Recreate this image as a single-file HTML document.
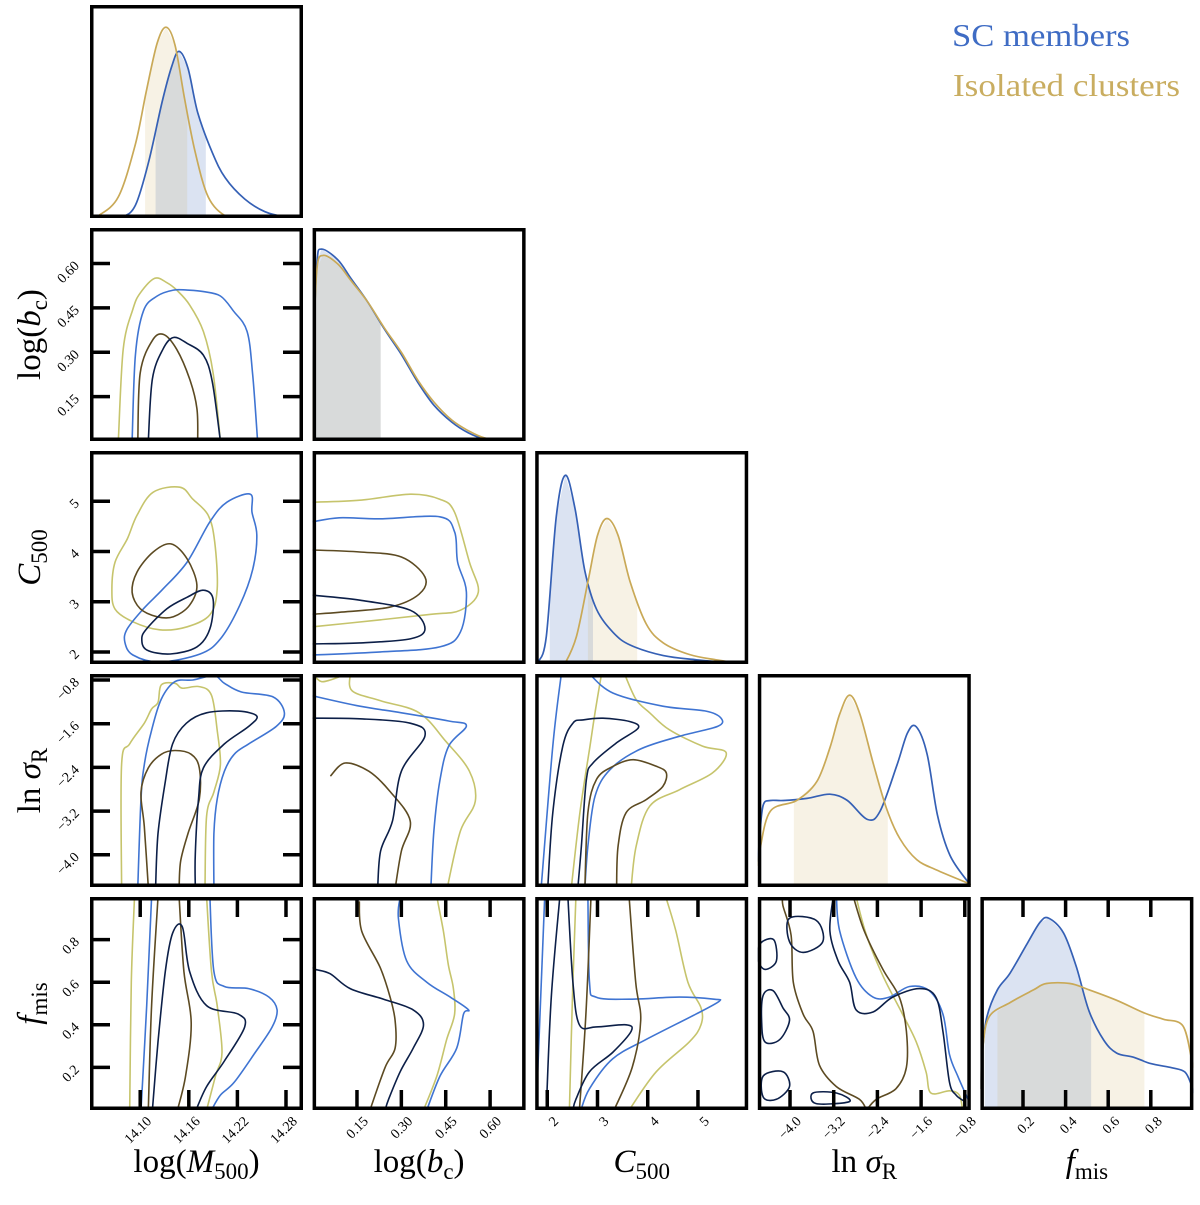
<!DOCTYPE html>
<html><head><meta charset="utf-8"><title>Corner plot</title>
<style>
html,body{margin:0;padding:0;background:#fff;}
svg{display:block;}
text{font-family:"Liberation Serif","DejaVu Serif",serif;}
</style></head>
<body>
<svg id="chart" width="1200" height="1205" viewBox="0 0 1200 1205" xmlns="http://www.w3.org/2000/svg">
  <text x="952" y="46" font-size="32" fill="#3f6cc4" textLength="178" lengthAdjust="spacingAndGlyphs">SC members</text>
  <text x="953" y="96" font-size="32" fill="#c9ad60" textLength="227" lengthAdjust="spacingAndGlyphs">Isolated clusters</text>
</svg>
<script>
// ---------- data ----------
const RANGES=[[14.038,14.301],[0,0.72],[1.76,6.0],[-4.59,-0.69],[0,1]];
const TICKS=[[14.10,14.16,14.22,14.28],[0.15,0.30,0.45,0.60],[2,3,4,5],[-4.0,-3.2,-2.4,-1.6,-0.8],[0.2,0.4,0.6,0.8]];
const TICK_LABELS=[["14.10","14.16","14.22","14.28"],["0.15","0.30","0.45","0.60"],["2","3","4","5"],["\u22124.0","\u22123.2","\u22122.4","\u22121.6","\u22120.8"],["0.2","0.4","0.6","0.8"]];

// 1D marginals (x values, normalised density)
const m_x_sc=[14.060,14.078,14.094,14.110,14.127,14.139,14.148,14.159,14.171,14.189,14.205,14.229,14.254,14.279,14.300];
const m_d_sc=[0,0.005,0.06,0.26,0.55,0.72,0.79,0.71,0.50,0.31,0.19,0.09,0.03,0.005,0];
const m_x_iso=[14.040,14.048,14.073,14.094,14.108,14.121,14.132,14.143,14.155,14.168,14.184,14.205,14.225];
const m_d_iso=[0,0.01,0.10,0.35,0.61,0.83,0.905,0.82,0.56,0.31,0.10,0.01,0];
const m_fill_sc=[14.119,14.181], m_fill_iso=[14.106,14.158];

const b_x_sc=[0,0.005,0.015,0.03,0.085,0.13,0.186,0.243,0.30,0.355,0.41,0.47,0.525,0.58,0.65,0.72];
const b_d_sc=[0,0.5,0.85,0.91,0.86,0.77,0.66,0.53,0.41,0.28,0.17,0.09,0.04,0.01,0,0];
const b_x_iso=[0,0.005,0.015,0.035,0.085,0.13,0.186,0.243,0.30,0.355,0.41,0.47,0.525,0.58,0.65,0.72];
const b_d_iso=[0,0.5,0.82,0.88,0.84,0.76,0.66,0.535,0.42,0.29,0.185,0.10,0.05,0.015,0,0];
const b_fill_sc=[0,0.23], b_fill_iso=[0,0.23];

const c_x_sc=[1.78,1.82,1.98,2.18,2.36,2.55,2.75,2.98,3.31,3.65,4.31,4.97,5.98];
const c_d_sc=[0,0.01,0.13,0.70,0.895,0.74,0.44,0.26,0.15,0.09,0.04,0.02,0];
const c_x_iso=[2.30,2.36,2.58,2.81,3.00,3.19,3.41,3.65,3.97,4.31,4.83,5.36,5.98];
const c_d_iso=[0,0.005,0.13,0.39,0.61,0.69,0.61,0.39,0.19,0.10,0.045,0.02,0];
const c_fill_sc=[2.05,2.91], c_fill_iso=[2.81,3.79];

const s_x_sc=[-4.59,-4.55,-4.49,-4.36,-4.12,-3.69,-3.27,-2.95,-2.58,-2.35,-2.04,-1.85,-1.69,-1.49,-1.30,-1.07,-0.76,-0.69];
const s_d_sc=[0.12,0.26,0.39,0.41,0.41,0.42,0.44,0.41,0.32,0.36,0.58,0.73,0.76,0.63,0.34,0.15,0.03,0.01];
const s_x_iso=[-4.59,-4.55,-4.36,-3.88,-3.51,-3.27,-3.09,-2.91,-2.72,-2.47,-2.23,-1.99,-1.68,-1.31,-0.76,-0.69];
const s_d_iso=[0.10,0.18,0.36,0.41,0.50,0.66,0.82,0.91,0.82,0.58,0.37,0.23,0.13,0.08,0.02,0.01];
const s_fill_iso=[-3.93,-2.21];

const f_x_sc=[0,0.01,0.03,0.08,0.14,0.22,0.28,0.32,0.39,0.45,0.51,0.58,0.64,0.72,0.80,0.90,0.96,0.99,1.0];
const f_d_sc=[0.1,0.28,0.44,0.57,0.65,0.79,0.89,0.91,0.84,0.68,0.47,0.33,0.27,0.25,0.22,0.20,0.18,0.12,0.08];
const f_x_iso=[0,0.01,0.04,0.14,0.25,0.31,0.42,0.51,0.64,0.77,0.86,0.95,0.99,1.0];
const f_d_iso=[0.1,0.28,0.44,0.51,0.57,0.60,0.60,0.57,0.52,0.46,0.43,0.40,0.25,0.2];
const f_fill_sc=[0.02,0.52], f_fill_iso=[0.08,0.77];

// 2D contours [x,y] in data units
const k10_isoOut=[[14.073,0],[14.079,0.31],[14.091,0.446],[14.100,0.50],[14.118,0.55],[14.133,0.535],[14.145,0.51],[14.161,0.46],[14.178,0.37],[14.190,0.23],[14.199,0]];
const k10_scOut=[[14.090,0],[14.094,0.29],[14.104,0.44],[14.121,0.49],[14.141,0.51],[14.158,0.51],[14.178,0.505],[14.199,0.49],[14.215,0.44],[14.232,0.37],[14.239,0.22],[14.245,0]];
const k10_isoIn=[[14.097,0],[14.100,0.23],[14.115,0.34],[14.129,0.36],[14.145,0.31],[14.161,0.21],[14.170,0.11],[14.171,0]];
const k10_scIn=[[14.110,0],[14.115,0.21],[14.128,0.31],[14.141,0.35],[14.158,0.33],[14.178,0.29],[14.189,0.20],[14.199,0]];

const k20_isoOut=[[14.065,3.25],[14.069,3.79],[14.084,4.25],[14.096,4.72],[14.116,5.18],[14.149,5.28],[14.165,5.04],[14.184,4.72],[14.192,4.19],[14.195,3.25],[14.186,2.74],[14.158,2.50],[14.124,2.44],[14.091,2.60],[14.069,2.85]];
const k20_scOut=[[14.081,2.20],[14.084,2.46],[14.104,2.86],[14.128,3.25],[14.158,3.79],[14.186,4.59],[14.207,4.98],[14.236,5.14],[14.238,4.78],[14.244,4.33],[14.239,3.65],[14.223,2.93],[14.199,2.26],[14.174,1.96],[14.124,1.80],[14.091,1.94]];
const k20_isoIn=[[14.090,3.19],[14.096,3.59],[14.116,3.99],[14.138,4.15],[14.158,3.85],[14.170,3.33],[14.161,2.93],[14.141,2.70],[14.121,2.70],[14.100,2.86]];
const k20_scIn=[[14.102,2.26],[14.108,2.46],[14.133,2.86],[14.158,3.09],[14.178,3.23],[14.190,3.05],[14.186,2.46],[14.170,2.10],[14.137,1.96],[14.108,2.04]];

const k30_isoOut=[[14.077,-4.59],[14.077,-2.345],[14.087,-1.97],[14.105,-1.59],[14.114,-1.33],[14.122,-1.21],[14.126,-0.89],[14.143,-0.86],[14.152,-0.95],[14.173,-0.92],[14.188,-1.08],[14.195,-1.72],[14.199,-2.35],[14.191,-2.85],[14.182,-3.29],[14.180,-4.59]];
const k30_scOut=[[14.097,-4.59],[14.101,-2.98],[14.105,-2.35],[14.114,-1.72],[14.126,-1.15],[14.143,-0.83],[14.165,-0.80],[14.191,-0.72],[14.204,-0.86],[14.225,-1.02],[14.264,-1.11],[14.278,-1.40],[14.268,-1.65],[14.234,-1.97],[14.216,-2.16],[14.204,-2.47],[14.195,-2.98],[14.191,-3.61],[14.191,-4.59]];
const k30_scIn=[[14.119,-4.59],[14.122,-3.61],[14.131,-2.66],[14.140,-1.97],[14.157,-1.59],[14.182,-1.40],[14.221,-1.37],[14.244,-1.46],[14.234,-1.65],[14.204,-1.97],[14.178,-2.41],[14.172,-2.98],[14.168,-3.99],[14.168,-4.59]];
const k30_isoIn=[[14.110,-4.59],[14.105,-3.48],[14.101,-2.85],[14.110,-2.41],[14.126,-2.16],[14.143,-2.09],[14.163,-2.16],[14.173,-2.41],[14.173,-2.98],[14.159,-3.61],[14.150,-4.11],[14.148,-4.59]];

const k40_isoOutL=[[14.093,1.0],[14.089,0.6],[14.087,0]];
const k40_isoOutR=[[14.182,1.0],[14.188,0.65],[14.195,0.49],[14.201,0.27],[14.193,0.16],[14.182,0]];
const k40_scOutL=[[14.114,1.0],[14.108,0.49],[14.101,0]];
const k40_scOutR=[[14.186,1.0],[14.191,0.65],[14.204,0.58],[14.234,0.57],[14.259,0.53],[14.269,0.47],[14.263,0.39],[14.242,0.27],[14.216,0.13],[14.199,0.07],[14.188,0]];
const k40_isoInL=[[14.122,1.0],[14.114,0.49],[14.110,0]];
const k40_isoInR=[[14.148,1.0],[14.154,0.65],[14.163,0.41],[14.156,0.16],[14.146,0]];
const k40_scIn=[[14.115,0],[14.122,0.32],[14.131,0.65],[14.140,0.83],[14.152,0.86],[14.161,0.65],[14.182,0.49],[14.221,0.45],[14.229,0.39],[14.204,0.23],[14.182,0.11],[14.169,0]];

const k21_isoOut=[[0,4.98],[0.16,5.02],[0.33,5.14],[0.43,5.04],[0.48,4.78],[0.53,3.79],[0.56,3.19],[0.50,2.83],[0.40,2.75],[0.23,2.64],[0,2.50]];
const k21_scOut=[[0,4.59],[0.09,4.67],[0.23,4.65],[0.43,4.69],[0.48,4.39],[0.49,3.79],[0.52,3.19],[0.50,2.40],[0.43,2.10],[0.23,2.00],[0,1.94]];
const k21_isoIn=[[0,4.03],[0.16,3.99],[0.30,3.89],[0.38,3.49],[0.36,3.15],[0.26,2.89],[0.09,2.79],[0,2.75]];
const k21_scIn=[[0,3.13],[0.16,3.03],[0.33,2.83],[0.38,2.46],[0.33,2.26],[0.16,2.18],[0,2.16]];

const k31_isoOut=[[0.127,-0.69],[0.134,-1.00],[0.23,-1.18],[0.36,-1.40],[0.45,-1.92],[0.53,-2.47],[0.55,-3.02],[0.50,-3.56],[0.46,-4.48],[0.46,-4.59]];
const k31_isoOutTop=[[0.01,-0.75],[0.03,-0.83],[0.06,-0.80],[0.10,-0.72],[0.11,-0.69]];
const k31_scOut=[[0,-1.09],[0.16,-1.28],[0.30,-1.40],[0.46,-1.55],[0.52,-1.64],[0.46,-2.01],[0.43,-2.65],[0.41,-3.56],[0.40,-4.59]];
const k31_scIn=[[0,-1.50],[0.16,-1.51],[0.33,-1.59],[0.38,-1.82],[0.30,-2.47],[0.27,-3.38],[0.23,-3.93],[0.22,-4.59]];
const k31_isoIn=[[0.06,-2.56],[0.11,-2.32],[0.19,-2.47],[0.26,-2.83],[0.33,-3.38],[0.30,-3.93],[0.28,-4.59]];

const k41_isoIn=[[0.158,0.98],[0.166,0.84],[0.228,0.67],[0.262,0.53],[0.279,0.42],[0.279,0.29],[0.245,0.20],[0.194,0.0]];
const k41_scIn=[[0,0.67],[0.009,0.66],[0.059,0.64],[0.127,0.57],[0.24,0.52],[0.34,0.47],[0.375,0.40],[0.34,0.29],[0.296,0.18],[0.257,0.05],[0.245,0.0]];
const k41_scOut=[[0.296,1.0],[0.29,0.90],[0.318,0.70],[0.386,0.60],[0.465,0.53],[0.527,0.47],[0.51,0.45],[0.487,0.29],[0.431,0.16],[0.386,0.0]];
const k41_isoOut=[[0.42,1.0],[0.442,0.84],[0.459,0.68],[0.476,0.57],[0.48,0.45],[0.453,0.33],[0.42,0.16],[0.375,0.0]];

const k32_scOutL=[[2.28,-0.69],[2.11,-2.01],[1.88,-4.59]];
const k32_scOutR=[[2.84,-0.69],[3.31,-1.04],[4.30,-1.28],[5.16,-1.37],[5.46,-1.50],[5.39,-1.65],[4.63,-1.83],[3.84,-2.07],[3.25,-2.44],[2.95,-2.93],[2.81,-3.84],[2.75,-4.59]];
const k32_scIn=[[2.01,-4.59],[2.11,-3.23],[2.31,-2.01],[2.51,-1.59],[2.71,-1.53],[3.11,-1.50],[3.64,-1.56],[3.81,-1.68],[3.38,-1.95],[2.91,-2.32],[2.78,-2.62],[2.68,-3.84],[2.61,-4.59]];
const k32_isoOutL=[[3.08,-0.69],[2.95,-1.40],[2.85,-2.01],[2.65,-3.23],[2.48,-4.59]];
const k32_isoOutR=[[3.54,-0.69],[3.77,-1.16],[4.04,-1.40],[4.43,-1.71],[5.09,-2.01],[5.56,-2.13],[5.29,-2.50],[4.63,-2.81],[4.04,-3.11],[3.77,-3.84],[3.67,-4.59]];
const k32_isoIn=[[3.38,-4.59],[3.41,-3.84],[3.57,-3.23],[3.97,-2.99],[4.30,-2.75],[4.37,-2.50],[4.17,-2.38],[3.71,-2.26],[3.31,-2.38],[2.98,-2.62],[2.81,-3.23],[2.75,-4.59]];

const k42_scOutL=[[1.95,1.0],[1.78,0.0]];
const k42_scOutR=[[2.81,1.0],[2.84,0.60],[2.97,0.53],[3.63,0.52],[4.63,0.53],[5.32,0.52],[5.42,0.51],[4.96,0.45],[3.96,0.33],[3.30,0.24],[2.84,0.10],[2.67,0.0]];
const k42_scInL=[[2.25,1.0],[2.08,0.53],[1.98,0.0]];
const k42_scInR=[[2.41,1.0],[2.51,0.60],[2.64,0.40],[2.97,0.39],[3.57,0.40],[3.67,0.37],[3.30,0.27],[2.84,0.18],[2.57,0.05],[2.51,0.0]];
const k42_isoOutL=[[2.57,1.0],[2.51,0.60],[2.44,0.0]];
const k42_isoOutR=[[4.36,1.0],[4.56,0.84],[4.80,0.60],[5.06,0.48],[5.06,0.40],[4.83,0.32],[4.17,0.18],[3.63,0.0]];
const k42_isoInL=[[2.87,1.0],[2.77,0.45],[2.64,0.0]];
const k42_isoInR=[[3.63,1.0],[3.76,0.60],[3.86,0.42],[3.69,0.20],[3.33,0.0]];

const k43_scIn=[[-3.21,1.0],[-3.27,0.84],[-3.12,0.70],[-2.91,0.60],[-2.79,0.47],[-2.48,0.46],[-2.12,0.53],[-1.63,0.57],[-1.33,0.53],[-1.20,0.37],[-1.08,0.13],[-0.96,0.07],[-0.80,0.04]];
const k43_scOut=[[-3.15,1.0],[-3.09,0.84],[-2.79,0.62],[-2.48,0.53],[-2.18,0.53],[-1.81,0.58],[-1.45,0.56],[-1.20,0.45],[-1.08,0.26],[-0.93,0.16],[-0.74,0.05]];
const k43_isoOut=[[-2.79,1.0],[-2.60,0.82],[-2.30,0.63],[-1.94,0.45],[-1.69,0.32],[-1.51,0.18],[-1.42,0.08],[-1.08,0.09],[-0.90,0.07],[-0.84,0.0]];
const k43_isoIn=[[-2.84,1.0],[-2.64,0.84],[-2.30,0.66],[-2.00,0.53],[-1.87,0.37],[-1.87,0.20],[-2.06,0.10],[-2.42,0.05],[-2.60,0.0]];
const k43_isoIn2=[[-4.13,1.0],[-4.13,0.96],[-3.98,0.82],[-3.94,0.60],[-3.76,0.45],[-3.58,0.37],[-3.46,0.21],[-3.15,0.11],[-2.73,0.05],[-2.60,0.0]];
const k43_blob1=[[-4.49,0.54],[-4.31,0.56],[-4.13,0.48],[-4.01,0.42],[-4.19,0.33],[-4.46,0.32],[-4.52,0.42]];
const k43_blob2=[[-4.49,0.16],[-4.13,0.18],[-4.01,0.11],[-4.25,0.05],[-4.49,0.06]];
const k43_blob3=[[-4.01,0.90],[-3.52,0.89],[-3.40,0.79],[-3.76,0.74],[-4.01,0.79]];
const k43_blob4=[[-3.58,0.08],[-3.15,0.08],[-2.91,0.04],[-3.52,0.03]];
const k43_blob5=[[-4.55,0.78],[-4.30,0.80],[-4.25,0.70],[-4.45,0.66],[-4.58,0.70]];

// ---------- drawing ----------
const NS='http://www.w3.org/2000/svg';
const svg=document.getElementById('chart');
const PX0=90,PITCH_X=222.6,PY0=5,PITCH_Y=223,SZ=213;
const BLUE='#3560b5',GOLD='#c9a957',SC_OUT='#3f74d2',SC_IN='#0c1f48',ISO_OUT='#c6c46c',ISO_IN='#5c4a22';
function xs(col,v){const r=RANGES[col];return PX0+PITCH_X*col+(v-r[0])/(r[1]-r[0])*SZ;}
function ys(row,v){const r=RANGES[row];return PY0+PITCH_Y*row+SZ-(v-r[0])/(r[1]-r[0])*SZ;}
function yd(row,d){return PY0+PITCH_Y*row+SZ-d*SZ*0.99;}
function el(tag,attrs,parent){const e=document.createElementNS(NS,tag);for(const k in attrs)e.setAttribute(k,attrs[k]);(parent||svg).appendChild(e);return e;}
function smooth(pts,closed){
  const n=pts.length;if(n<2)return '';
  const P=i=>closed?pts[(i+n)%n]:pts[Math.max(0,Math.min(n-1,i))];
  let d='M'+pts[0][0].toFixed(1)+','+pts[0][1].toFixed(1);
  const segs=closed?n:n-1;
  for(let i=0;i<segs;i++){
    const p0=P(i-1),p1=P(i),p2=P(i+1),p3=P(i+2);
    const c1=[p1[0]+(p2[0]-p0[0])/6,p1[1]+(p2[1]-p0[1])/6];
    const c2=[p2[0]-(p3[0]-p1[0])/6,p2[1]-(p3[1]-p1[1])/6];
    d+='C'+c1[0].toFixed(1)+','+c1[1].toFixed(1)+' '+c2[0].toFixed(1)+','+c2[1].toFixed(1)+' '+p2[0].toFixed(1)+','+p2[1].toFixed(1);
  }
  return d+(closed?'Z':'');
}
const defs=el('defs',{});
const layers={};
function panelGroup(r,c){
  const key=r+'_'+c;if(layers[key])return layers[key];
  const cp=el('clipPath',{id:'clip'+key},defs);
  el('rect',{x:PX0+PITCH_X*c,y:PY0+PITCH_Y*r,width:SZ,height:SZ},cp);
  const g=el('g',{'clip-path':'url(#clip'+key+')'});
  
  
  layers[key]=g;return g;
}
function interp(xsA,dsA,x){
  if(x<=xsA[0])return dsA[0];
  for(let i=1;i<xsA.length;i++){if(x<=xsA[i]){const t=(x-xsA[i-1])/(xsA[i]-xsA[i-1]);return dsA[i-1]+t*(dsA[i]-dsA[i-1]);}}
  return dsA[dsA.length-1];
}
function fillUnder(k,xsA,dsA,range,color,op,name){
  const g=panelGroup(k,k);
  const pts=[[xs(k,range[0]),yd(k,0)],[xs(k,range[0]),yd(k,interp(xsA,dsA,range[0]))]];
  xsA.forEach((x,i)=>{if(x>range[0]&&x<range[1])pts.push([xs(k,x),yd(k,dsA[i])]);});
  pts.push([xs(k,range[1]),yd(k,interp(xsA,dsA,range[1]))]);
  pts.push([xs(k,range[1]),yd(k,0)]);
  const p=el('polygon',{points:pts.map(p=>p.join(',')).join(' '),fill:color,'fill-opacity':op},g);
  
  
}
function curve(k,xsA,dsA,color,name){
  const g=panelGroup(k,k);
  const pts=xsA.map((x,i)=>[xs(k,x),yd(k,dsA[i])]);
  const p=el('path',{d:smooth(pts,false),fill:'none',stroke:color,'stroke-width':1.7},g);
  
  
}
function contour(r,c,arr,color,closed,name){
  const g=panelGroup(r,c);
  const pts=arr.map(p=>[xs(c,p[0]),ys(r,p[1])]);
  const p=el('path',{d:smooth(pts,closed),fill:'none',stroke:color,'stroke-width':1.6,'stroke-linejoin':'round'},g);
  
  
}

// diagonal fills & curves
fillUnder(0,m_x_sc,m_d_sc,m_fill_sc,'rgb(58,102,184)',0.18,'logm-sc-interval');
fillUnder(0,m_x_iso,m_d_iso,m_fill_iso,'rgb(200,170,80)',0.15,'logm-iso-interval');
curve(0,m_x_sc,m_d_sc,BLUE,'logm-sc-marginal');curve(0,m_x_iso,m_d_iso,GOLD,'logm-iso-marginal');
fillUnder(1,b_x_sc,b_d_sc,b_fill_sc,'rgb(58,102,184)',0.18,'bc-sc-interval');
fillUnder(1,b_x_iso,b_d_iso,b_fill_iso,'rgb(200,170,80)',0.15,'bc-iso-interval');
curve(1,b_x_sc,b_d_sc,BLUE,'bc-sc-marginal');curve(1,b_x_iso,b_d_iso,GOLD,'bc-iso-marginal');
fillUnder(2,c_x_sc,c_d_sc,c_fill_sc,'rgb(58,102,184)',0.18,'c500-sc-interval');
fillUnder(2,c_x_iso,c_d_iso,c_fill_iso,'rgb(200,170,80)',0.15,'c500-iso-interval');
curve(2,c_x_sc,c_d_sc,BLUE,'c500-sc-marginal');curve(2,c_x_iso,c_d_iso,GOLD,'c500-iso-marginal');
fillUnder(3,s_x_iso,s_d_iso,s_fill_iso,'rgb(200,170,80)',0.15,'sigma-iso-interval');
curve(3,s_x_sc,s_d_sc,BLUE,'sigma-sc-marginal');curve(3,s_x_iso,s_d_iso,GOLD,'sigma-iso-marginal');
fillUnder(4,f_x_sc,f_d_sc,f_fill_sc,'rgb(58,102,184)',0.18,'fmis-sc-interval');
fillUnder(4,f_x_iso,f_d_iso,f_fill_iso,'rgb(200,170,80)',0.15,'fmis-iso-interval');
curve(4,f_x_sc,f_d_sc,BLUE,'fmis-sc-marginal');curve(4,f_x_iso,f_d_iso,GOLD,'fmis-iso-marginal');

// contours
contour(1,0,k10_isoOut,ISO_OUT,false,'iso-outer-contour');contour(1,0,k10_scOut,SC_OUT,false,'sc-outer-contour');
contour(1,0,k10_isoIn,ISO_IN,false,'iso-inner-contour');contour(1,0,k10_scIn,SC_IN,false,'sc-inner-contour');
contour(2,0,k20_isoOut,ISO_OUT,true,'iso-outer-contour');contour(2,0,k20_scOut,SC_OUT,true,'sc-outer-contour');
contour(2,0,k20_isoIn,ISO_IN,true,'iso-inner-contour');contour(2,0,k20_scIn,SC_IN,true,'sc-inner-contour');
contour(3,0,k30_isoOut,ISO_OUT,false,'iso-outer-contour');contour(3,0,k30_scOut,SC_OUT,false,'sc-outer-contour');
contour(3,0,k30_isoIn,ISO_IN,false,'iso-inner-contour');contour(3,0,k30_scIn,SC_IN,false,'sc-inner-contour');
contour(4,0,k40_isoOutL,ISO_OUT,false,'iso-outer-contour');contour(4,0,k40_isoOutR,ISO_OUT,false,'iso-outer-contour');
contour(4,0,k40_scOutL,SC_OUT,false,'sc-outer-contour');contour(4,0,k40_scOutR,SC_OUT,false,'sc-outer-contour');
contour(4,0,k40_isoInL,ISO_IN,false,'iso-inner-contour');contour(4,0,k40_isoInR,ISO_IN,false,'iso-inner-contour');
contour(4,0,k40_scIn,SC_IN,false,'sc-inner-contour');
contour(2,1,k21_isoOut,ISO_OUT,false,'iso-outer-contour');contour(2,1,k21_scOut,SC_OUT,false,'sc-outer-contour');
contour(2,1,k21_isoIn,ISO_IN,false,'iso-inner-contour');contour(2,1,k21_scIn,SC_IN,false,'sc-inner-contour');
contour(3,1,k31_isoOut,ISO_OUT,false,'iso-outer-contour');contour(3,1,k31_isoOutTop,ISO_OUT,false,'iso-outer-contour');
contour(3,1,k31_scOut,SC_OUT,false,'sc-outer-contour');
contour(3,1,k31_isoIn,ISO_IN,false,'iso-inner-contour');contour(3,1,k31_scIn,SC_IN,false,'sc-inner-contour');
contour(4,1,k41_isoOut,ISO_OUT,false,'iso-outer-contour');contour(4,1,k41_scOut,SC_OUT,false,'sc-outer-contour');
contour(4,1,k41_isoIn,ISO_IN,false,'iso-inner-contour');contour(4,1,k41_scIn,SC_IN,false,'sc-inner-contour');
contour(3,2,k32_isoOutL,ISO_OUT,false,'iso-outer-contour');contour(3,2,k32_isoOutR,ISO_OUT,false,'iso-outer-contour');
contour(3,2,k32_scOutL,SC_OUT,false,'sc-outer-contour');contour(3,2,k32_scOutR,SC_OUT,false,'sc-outer-contour');
contour(3,2,k32_isoIn,ISO_IN,false,'iso-inner-contour');contour(3,2,k32_scIn,SC_IN,false,'sc-inner-contour');
contour(4,2,k42_isoOutL,ISO_OUT,false,'iso-outer-contour');contour(4,2,k42_isoOutR,ISO_OUT,false,'iso-outer-contour');
contour(4,2,k42_scOutL,SC_OUT,false,'sc-outer-contour');contour(4,2,k42_scOutR,SC_OUT,false,'sc-outer-contour');
contour(4,2,k42_isoInL,ISO_IN,false,'iso-inner-contour');contour(4,2,k42_isoInR,ISO_IN,false,'iso-inner-contour');
contour(4,2,k42_scInL,SC_IN,false,'sc-inner-contour');contour(4,2,k42_scInR,SC_IN,false,'sc-inner-contour');
contour(4,3,k43_isoOut,ISO_OUT,false,'iso-outer-contour');contour(4,3,k43_scOut,SC_OUT,false,'sc-outer-contour');
contour(4,3,k43_isoIn,ISO_IN,false,'iso-inner-contour');contour(4,3,k43_isoIn2,ISO_IN,false,'iso-inner-contour');
contour(4,3,k43_scIn,SC_IN,false,'sc-inner-contour');
[k43_blob1,k43_blob2,k43_blob3,k43_blob4,k43_blob5].forEach(b=>contour(4,3,b,SC_IN,true,'sc-inner-contour-island'));

// frames & ticks
for(let r=0;r<5;r++){for(let c=0;c<=r;c++){
  const x0=PX0+PITCH_X*c,y0=PY0+PITCH_Y*r;
  const fr=el('rect',{x:x0+1.75,y:y0+1.75,width:SZ-3.5,height:SZ-3.5,fill:'none',stroke:'#000','stroke-width':3.5});
  
  
  if(c===0&&r>0){
    TICKS[r].forEach((t,i)=>{
      const y=ys(r,t);
      const tl=el('line',{x1:x0,x2:x0+20,y1:y,y2:y,stroke:'#000','stroke-width':3.5});
      
      
      const tr=el('line',{x1:x0+SZ-20,x2:x0+SZ,y1:y,y2:y,stroke:'#000','stroke-width':3.5});
      
      
      const tx=el('text',{x:80,y:y+3,'font-size':14,'text-anchor':'end',transform:'rotate(-45 80 '+(y+3)+')'});
      tx.textContent=TICK_LABELS[r][i];
      
      
    });
  }
  if(r===4){
    TICKS[c].forEach((t,i)=>{
      const x=xs(c,t);
      const tb=el('line',{x1:x,x2:x,y1:y0+SZ,y2:y0+SZ-20,stroke:'#000','stroke-width':3.5});
      
      
      const tt=el('line',{x1:x,x2:x,y1:y0,y2:y0+20,stroke:'#000','stroke-width':3.5});
      
      
      const ax=x+12,ay=1122;
      const tx=el('text',{x:ax,y:ay,'font-size':14,'text-anchor':'end',transform:'rotate(-45 '+ax+' '+ay+')'});
      tx.textContent=TICK_LABELS[c][i];
      
      
    });
  }
}}

// axis titles
const XT=['log(<tspan font-style="italic">M</tspan><tspan font-size="23" dy="7">500</tspan><tspan dy="-7">)</tspan>',
'log(<tspan font-style="italic">b</tspan><tspan font-size="23" dy="7">c</tspan><tspan dy="-7">)</tspan>',
'<tspan font-style="italic">C</tspan><tspan font-size="23" dy="7">500</tspan>',
'ln <tspan font-style="italic">σ</tspan><tspan font-size="23" dy="7">R</tspan>',
'<tspan font-style="italic">f</tspan><tspan font-size="23" dy="7">mis</tspan>'];
const XNAMES=['x-axis-title-log-m500','x-axis-title-log-bc','x-axis-title-c500','x-axis-title-ln-sigma-r','x-axis-title-f-mis'];
for(let c=0;c<5;c++){
  const t=el('text',{x:PX0+PITCH_X*c+SZ/2,y:1172,'font-size':33,'text-anchor':'middle'});
  t.innerHTML=XT[c];
  
  
}
const YNAMES=['','y-axis-title-log-bc','y-axis-title-c500','y-axis-title-ln-sigma-r','y-axis-title-f-mis'];
for(let r=1;r<5;r++){
  const cy=PY0+PITCH_Y*r+SZ/2;
  const t=el('text',{x:40,y:cy,'font-size':33,'text-anchor':'middle',transform:'rotate(-90 40 '+cy+')'});
  t.innerHTML=XT[r];
  
  
}
</script>
</body></html>
